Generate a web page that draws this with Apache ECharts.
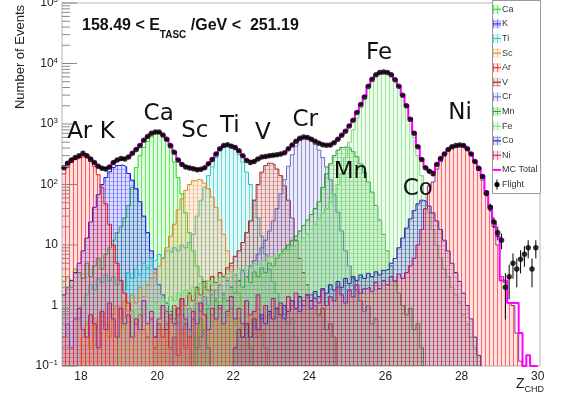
<!DOCTYPE html>
<html>
<head>
<meta charset="utf-8">
<script src="https://cdn.jsdelivr.net/npm/echarts@6/dist/echarts.min.js"></script>
<style>
  html, body { margin: 0; padding: 0; background: #fff; }
  #chart { width: 569px; height: 394px; }
</style>
</head>
<body>
<div id="chart"></div>
<script>
// Charge (Z_CHD) spectrum for 158.49 < E_TASC/GeV < 251.19.
// Every histogram uses 0.1-wide bins; each *Start is the centre of the first bin.
const Z_BIN = 0.1;
const FLOOR = 0.1;            // bottom of the log axis
const zTickValues = [18, 20, 22, 24, 26, 28, 30];

const flightStart = 17.55;
const flightCounts = [
  190, 225, 255, 280, 300, 330, 300, 265, 230, 200,
  185, 180, 195, 230, 255, 270, 265, 285, 330, 380,
  440, 540, 620, 700, 740, 735, 660, 560, 440, 340,
  255, 215, 195, 188, 182, 175, 178, 190, 220, 260,
  320, 390, 440, 455, 430, 410, 360, 300, 250, 232,
  240, 265, 285, 290, 300, 305, 310, 320, 335, 390,
  450, 520, 580, 610, 600, 560, 520, 480, 455, 445,
  450, 490, 560, 650, 760, 930, 1150, 1550, 2100, 2800,
  4200, 5500, 6500, 7100, 7250, 7100, 6500, 5400, 4200, 3000,
  2000, 1200, 700, 420, 260, 190, 165, 150, 215, 270,
  320, 380, 420, 440, 450, 440, 390, 320, 240, 185,
  135, 72, 42, 24, 16, 12, 2, 3, 5, 4,
  5.8, 7, 9, 4, 9
];

const mcTotalStart = 17.55;
const mcTotalCounts = [
  195, 230, 258, 282, 300, 320, 305, 268, 232, 205,
  188, 182, 198, 228, 252, 265, 268, 290, 335, 385,
  450, 545, 630, 705, 745, 730, 665, 565, 445, 345,
  262, 220, 198, 190, 184, 178, 182, 195, 225, 268,
  325, 392, 440, 452, 435, 405, 355, 298, 255, 238,
  245, 268, 285, 292, 298, 302, 312, 325, 345, 395,
  455, 525, 585, 612, 598, 560, 515, 478, 455, 448,
  458, 498, 570, 660, 775, 950, 1180, 1600, 2150, 2900,
  4300, 5600, 6600, 7150, 7300, 7150, 6550, 5450, 4250, 3050,
  2050, 1250, 730, 430, 265, 195, 168, 160, 220, 275,
  325, 385, 425, 445, 455, 445, 395, 325, 245, 190,
  140, 78, 44, 24, 14, 2.6, 2.6, 1.1, 1.1, 1.1,
  0.35, 0.05, 0.15, 0.05, 0.05
];

// MC templates, one per element
const caStart = 17.55;
const caCounts = [
  2.5, 3, 2, 4, 3.5, 2.8, 5, 3, 4.5, 6, 4, 7, 9, 12, 16, 20,
  28, 45, 90, 190, 300, 410, 515, 615, 690, 705, 650, 540, 400, 235,
  130, 70, 34, 16, 8, 4.5, 3, 2, 2.5, 1.5, 1.8, 1, 1.3, 0.7, 0.9, 0.5, 0.6, 0.3, 0.4, 0.2
];
const kStart = 17.55;
const kCounts = [
  1.5, 2, 2.6, 3.5, 5, 8, 13, 24, 42, 68, 100, 130, 162, 190, 206, 210, 196, 152, 118, 85,
  52, 30, 16, 8, 4, 2.2, 1.5, 1.1, 0.8, 0.6, 0.9, 0.4, 0.5, 0.3, 0.6, 0.2, 0.3, 0.4, 0.2
];
const tiStart = 17.95;
const tiCounts = [
  0.6, 1.0, 1.5, 2.2, 1.8, 2.8, 2.4, 3.2, 2.6, 3.0, 2.2, 2.6, 1.8, 3.5, 2.8, 4.0, 3.2, 5.0, 4.2, 6.0,
  5.5, 7.0, 6.2, 8.0, 7.5, 9.0, 8.0, 10, 9.0, 11,
  15, 30, 55, 90, 140, 195, 280, 370, 425, 445, 430, 385, 310, 235, 160, 100, 55, 28, 14, 7,
  4, 2.5, 1.6, 1.0, 0.7, 0.5, 0.6, 0.3
];
const scStart = 18.05;
const scCounts = [
  0.3, 0.5, 0.2, 0.6, 0.4, 0.8, 0.5, 0.3, 0.7, 1.0, 0.6, 1.2, 0.8, 1.5, 1.1, 2.0, 1.4,
  2.2, 2.8, 3.5, 4.5, 6, 9, 14, 22, 38, 58, 80, 100, 115, 122, 118, 105, 85, 62, 42, 26,
  15, 8, 4.5, 2.5, 1.6, 1.0, 0.7, 0.5, 0.8, 0.3, 0.4, 0.2
];
const arStart = 17.55;
const arCounts = [
  150, 190, 230, 260, 280, 290, 272, 240, 200, 145, 90, 48, 22, 10, 5, 2.6, 1.6, 1.1, 0.8, 0.5,
  0.7, 0.4, 0.3, 0.6, 0.2, 0.4, 0.3, 0.5, 0.2, 0.3, 0.15, 0.4, 0.2, 0.3
];
const vStart = 19.95;
const vCounts = [
  0.3, 0.5, 0.4, 0.8, 0.6, 1.0, 0.7, 1.3, 1.0, 1.6, 1.2, 2.0, 1.5, 2.5, 1.8, 3.0, 2.4, 3.5, 3.0, 4.2,
  5.0, 6.5, 8, 11, 16,
  25, 55, 100, 160, 205, 225, 215, 180, 140, 95, 55, 28, 12, 6, 3.5, 2.2, 1.5, 1, 0.7, 0.9, 0.4, 0.5, 0.3
];
const crStart = 20.45;
const crCounts = [
  0.3, 0.5, 0.7, 0.4, 0.9, 0.6, 1.1, 0.8, 1.4, 1.0, 1.8, 1.3, 2.2, 1.6, 2.6, 2.0, 3.2, 2.5, 3.8, 3.0,
  4.5, 5.5, 7, 9, 12, 17, 25, 40, 70,
  120, 200, 310, 430, 530, 590, 600, 550, 460, 370, 280, 195, 120, 68, 35, 17, 8, 4.5, 2.8, 1.8, 1.2,
  0.8, 1.0, 0.5, 0.6, 0.3
];
const mnStart = 21.05;
const mnCounts = [
  0.3, 0.6, 0.4, 0.9, 0.7, 1.2, 0.9, 1.5, 1.2, 2.0, 1.6, 2.6, 2.0, 3.0, 2.4, 3.6, 3.0, 4.2, 3.5, 5,
  4.5, 6, 7, 8.5, 10, 12, 14, 17, 21, 26, 32, 40,
  52, 90, 150, 220, 300, 370, 410, 420, 400, 350, 290, 220, 160, 110, 75, 45, 26, 15, 8, 4.5,
  2.6, 1.6, 1.0, 0.7, 0.9, 0.4, 0.5, 0.2
];
const feStart = 19.05;
const feCounts = [
  0.4, 0.6, 0.5, 0.8, 0.6, 0.9, 0.7, 1.0, 0.8, 1.1, 0.9, 1.3, 1.0, 1.4, 1.2, 1.6, 1.3, 1.8, 1.5, 2.0,
  1.7, 2.3, 1.9, 2.6, 2.2, 2.9, 2.5, 3.2, 2.8, 3.6, 3.2, 4.0, 3.6, 4.5, 4.0, 5.0, 4.6, 5.6, 5.2, 6.4,
  6.0, 7.2, 7.0, 8.2, 8.0, 9.5, 10, 11.5, 13, 15, 18, 22,
  27, 33, 40, 50, 70, 100, 150, 280, 500, 800, 1250, 1850, 2600, 3800, 5000, 6100, 6900, 7150,
  7000, 6400, 5300, 4100, 2900, 1900, 1100, 600, 300, 140, 70, 35, 18, 10, 6, 4, 3, 2, 1.5, 1.1,
  0.7, 0.5, 0.3, 0.2
];
const coStart = 22.05;
const coCounts = [
  0.2, 0.4, 0.3, 0.5, 0.3, 0.6, 0.4, 0.7, 0.5, 0.8, 0.6, 0.9, 0.7, 1.0, 0.8, 1.2, 0.9, 1.4, 1.0, 1.5,
  1.2, 1.7, 1.4, 1.9, 1.6, 2.2, 1.8, 2.5, 2.0, 2.8, 2.3, 3.0, 2.6, 3.2, 2.8, 3.4, 3.0, 3.6, 3.2, 3.8,
  4, 5, 6, 9, 13, 19, 27, 37, 48, 55, 52, 44, 34, 25, 18, 12, 8, 5, 3.5, 2.5,
  1.6, 1.0, 0.6, 0.3, 0.15
];
const niStart = 17.55;
const niCounts = [
  0.3, 0.5, 0.2, 0.6, 0.9, 0.4, 0.3, 0.7, 0.5, 0.2,
  0.8, 0.4, 1.1, 0.6, 0.3, 0.9, 0.5, 0.7, 0.3, 0.6,
  0.4, 1.2, 0.5, 0.8, 0.3, 0.6, 1.0, 0.4, 0.7, 0.5,
  0.9, 1.3, 0.6, 0.4, 0.8, 0.5, 1.1, 0.7, 0.4, 0.9,
  0.6, 1.0, 0.5, 0.8, 1.4, 0.6, 0.9, 0.5, 1.2, 0.7,
  0.8, 1.5, 0.6, 1.0, 0.7, 1.3, 0.9, 1.1, 0.6, 1.4,
  1.0, 1.6, 0.8, 1.2, 1.5, 0.9, 1.3, 1.1, 1.8, 1.0,
  1.4, 1.2, 2.0, 1.5, 1.1, 1.8, 1.4, 2.2, 1.6, 1.9,
  2.0, 1.7, 2.4, 1.9, 2.6, 2.2, 3.0, 2.5, 3.3, 2.8,
  3.5, 4.5, 6, 10, 18,
  40, 95, 110, 180, 240, 315, 370, 410, 430, 440,
  430, 385, 310, 230, 170, 118, 68, 38, 20, 10,
  3, 2.4, 1.1, 1.0, 0.35, 0.12
];

const elementNames  = ['Ca', 'K', 'Ti', 'Sc', 'Ar', 'V', 'Cr', 'Mn', 'Fe', 'Co', 'Ni'];
const elementStarts = [caStart, kStart, tiStart, scStart, arStart, vStart, crStart, mnStart, feStart, coStart, niStart];
const elementCounts = [caCounts, kCounts, tiCounts, scCounts, arCounts, vCounts, crCounts, mnCounts, feCounts, coCounts, niCounts];
const elementLine   = ['#1fd81f', '#1414ee', '#22c4c4', '#dd8a2c', '#ee1515', '#a32828', '#6868c4', '#2a9e2a', '#6cdc6c', '#2a2ab0', '#a0209c'];
const elementHatch  = ['#2ee62e', '#2424ff', '#33cccc', '#e59a44', '#ff2222', '#b03232', '#7070cc', '#33aa33', '#7ae07a', '#3030c0', '#ff3030'];
const elementCross  = [false, true, false, true, false, true, false, true, false, true, false];

const peakLabels  = ['Ar K', 'Ca', 'Sc', 'Ti', 'V', 'Cr', 'Mn', 'Fe', 'Co', 'Ni'];
const peakLabelAt = [[18.26, 738], [20.04, 1436], [20.99, 766], [21.91, 927], [22.78, 710],
                     [23.89, 1164], [25.09, 161], [25.83, 14920], [26.85, 84], [27.96, 1520]];

const Z_MIN = 17.5, Z_MAX = 30.06;

// ---------------------------------------------------------------------------
function rgba(hex, a) {
  const n = parseInt(hex.slice(1), 16);
  return `rgba(${(n >> 16) & 255},${(n >> 8) & 255},${n & 255},${a})`;
}
// fill pattern: faint tint with vertical hatching, plus horizontal lines for the grid styles
function hatch(hex, cross) {
  const c = document.createElement('canvas');
  c.width = 4; c.height = 4;
  const g = c.getContext('2d');
  g.fillStyle = rgba(hex, 0.14);
  g.fillRect(0, 0, 4, 4);
  g.fillStyle = rgba(hex, cross ? 0.5 : 0.7);
  g.fillRect(1, 0, 1, 4);
  if (cross) { g.fillStyle = rgba(hex, 0.32); g.fillRect(0, 1, 1, 1); g.fillRect(2, 1, 2, 1); }
  return { image: c, repeat: 'repeat' };
}
// outline of a histogram as step points (lower bin edges)
function stepPoints(start, counts, closeLeft) {
  const lo = start - Z_BIN / 2;
  const pts = closeLeft ? [[lo, FLOOR]] : [];
  counts.forEach((v, i) => pts.push([+(lo + i * Z_BIN).toFixed(3), Math.max(v, FLOOR)]));
  const hi = +(lo + counts.length * Z_BIN).toFixed(3);
  pts.push([hi, Math.max(counts[counts.length - 1], FLOOR)]);
  pts.push([hi, FLOOR]);
  return pts;
}
function binCentres(start, counts) {
  return counts.map((v, i) => [+(start + i * Z_BIN).toFixed(3), v]);
}

const series = [];
elementNames.forEach((name, i) => {
  series.push({
    type: 'line', name, step: 'end', showSymbol: false, symbol: 'none',
    data: stepPoints(elementStarts[i], elementCounts[i], elementStarts[i] - Z_BIN / 2 > Z_MIN),
    lineStyle: { color: elementLine[i], width: 1 },
    areaStyle: { color: hatch(elementHatch[i], elementCross[i]), origin: FLOOR, opacity: 1 },
    z: 2 + i, silent: true, animation: false
  });
});

series.push({
  type: 'line', name: 'MC Total', step: 'end', showSymbol: false, symbol: 'none',
  data: stepPoints(mcTotalStart, mcTotalCounts, false),
  lineStyle: { color: '#ff00ff', width: 2 },
  z: 20, silent: true, animation: false
});

const flightPts = binCentres(flightStart, flightCounts).filter(p => p[1] > 0);
series.push({
  type: 'custom', name: 'Flight errors', z: 21, silent: true, animation: false,
  data: flightPts.map(p => [p[0], Math.max(p[1] - Math.sqrt(p[1]), FLOOR), p[1] + Math.sqrt(p[1])]),
  renderItem(params, api) {
    const a = api.coord([api.value(0), api.value(1)]);
    const b = api.coord([api.value(0), api.value(2)]);
    return { type: 'line', shape: { x1: a[0], y1: a[1], x2: b[0], y2: b[1] },
             style: { stroke: '#000', lineWidth: 1 } };
  }
});
series.push({
  type: 'scatter', name: 'Flight', data: flightPts, symbol: 'circle', symbolSize: 5.5,
  itemStyle: { color: '#000' }, z: 22, silent: true, animation: false
});

// log-axis tick marks drawn inside the frame
const yMajor = [], yMinor = [];
for (let d = -1; d <= 4; d++) {
  yMajor.push(Math.pow(10, d));
  for (let m = 2; m <= 9; m++) yMinor.push(m * Math.pow(10, d));
}
yMajor.push(1e5);
function tickSeries(values, len) {
  return {
    type: 'custom', silent: true, animation: false, z: 25,
    data: values.map(v => [Z_MIN, v]),
    renderItem(params, api) {
      const p = api.coord([api.value(0), api.value(1)]);
      return { type: 'line', shape: { x1: p[0], y1: p[1], x2: p[0] + len, y2: p[1] },
               style: { stroke: '#8a8a8a', lineWidth: 1 } };
    }
  };
}
series.push(tickSeries(yMajor, 15));
series.push(tickSeries(yMinor, 8));

series.push({
  type: 'custom', silent: true, animation: false, z: 30,
  data: peakLabelAt,
  renderItem(params, api) {
    const p = api.coord([api.value(0), api.value(1)]);
    return { type: 'text', x: p[0], y: p[1],
             style: { text: peakLabels[params.dataIndex], font: '23px "DejaVu Sans"',
                      fill: '#111', align: 'center', verticalAlign: 'middle' } };
  }
});

// ---------------------------------------------------------------------------
const measure = document.createElement('canvas').getContext('2d');
function textWidth(str, font) { measure.font = font; return measure.measureText(str).width; }

const graphics = [];
// energy-range title
const tMain = 'bold 16px "Liberation Sans"', tSub = 'bold 10px "Liberation Sans"';
const t1 = '158.49 < E', t2 = 'TASC', t3 = ' /GeV <  251.19';
let tx = 82;
graphics.push({ type: 'text', x: tx, y: 18, z: 50, style: { text: t1, font: tMain, fill: '#111', align: 'left', verticalAlign: 'top' } });
tx += textWidth(t1, tMain);
graphics.push({ type: 'text', x: tx, y: 30, z: 50, style: { text: t2, font: tSub, fill: '#111', align: 'left', verticalAlign: 'top' } });
tx += textWidth(t2, tSub);
graphics.push({ type: 'text', x: tx, y: 18, z: 50, style: { text: t3, font: tMain, fill: '#111', align: 'left', verticalAlign: 'top' } });

// axis titles
graphics.push({ type: 'text', x: 20, y: 57, rotation: Math.PI / 2, z: 50,
  style: { text: 'Number of Events', font: '13px "Liberation Sans"', fill: '#222', align: 'center', verticalAlign: 'middle' } });
const zFont = '14px "Liberation Sans"', zSubFont = '9px "Liberation Sans"';
graphics.push({ type: 'text', x: 516, y: 377, z: 50, style: { text: 'Z', font: zFont, fill: '#222', align: 'left', verticalAlign: 'top' } });
graphics.push({ type: 'text', x: 516 + textWidth('Z', zFont), y: 385, z: 50, style: { text: 'CHD', font: zSubFont, fill: '#222', align: 'left', verticalAlign: 'top' } });

// legend box
const legTop = 9.3, legStep = 14.6, legX = 492;
graphics.push({ type: 'rect', z: 60, shape: { x: 492.5, y: 0.5, width: 48, height: 193 },
  style: { fill: '#fff', stroke: '#9a9a9a', lineWidth: 1 } });
elementNames.forEach((name, i) => {
  const yc = legTop + legStep * i;
  graphics.push({ type: 'rect', z: 61, shape: { x: legX + 1, y: yc - 4.5, width: 8, height: 9 },
    style: { fill: hatch(elementHatch[i], elementCross[i]) } });
  graphics.push({ type: 'line', z: 62, shape: { x1: legX + 1, y1: yc, x2: legX + 9, y2: yc },
    style: { stroke: elementLine[i], lineWidth: 1 } });
  graphics.push({ type: 'text', z: 62, x: legX + 10, y: yc,
    style: { text: name, font: '9px "Liberation Sans"', fill: '#333', align: 'left', verticalAlign: 'middle' } });
});
{
  const yc = legTop + legStep * elementNames.length;
  graphics.push({ type: 'line', z: 62, shape: { x1: legX + 1, y1: yc, x2: legX + 9, y2: yc },
    style: { stroke: '#ff00ff', lineWidth: 2 } });
  graphics.push({ type: 'text', z: 62, x: legX + 10, y: yc,
    style: { text: 'MC Total', font: '9px "Liberation Sans"', fill: '#333', align: 'left', verticalAlign: 'middle' } });
  const yf = yc + legStep;
  graphics.push({ type: 'line', z: 62, shape: { x1: legX + 5, y1: yf - 5, x2: legX + 5, y2: yf + 5 },
    style: { stroke: '#000', lineWidth: 1 } });
  graphics.push({ type: 'circle', z: 62, shape: { cx: legX + 5, cy: yf, r: 2.6 }, style: { fill: '#000' } });
  graphics.push({ type: 'text', z: 62, x: legX + 10, y: yf,
    style: { text: 'Flight', font: '9px "Liberation Sans"', fill: '#333', align: 'left', verticalAlign: 'middle' } });
}

const chart = echarts.init(document.getElementById('chart'), null, { renderer: 'canvas' });
chart.setOption({
  backgroundColor: '#fff',
  animation: false,
  grid: { left: 62, right: 29, top: 3, bottom: 28, show: true, borderColor: '#b4b4b4', borderWidth: 1,
          backgroundColor: 'transparent', containLabel: false, outerBoundsMode: 'none' },
  xAxis: {
    type: 'value', min: Z_MIN, max: Z_MAX,
    axisLine: { show: false }, axisTick: { show: false }, splitLine: { show: false },
    axisLabel: { customValues: zTickValues, margin: 5, color: '#222', fontSize: 12, fontFamily: 'Liberation Sans' }
  },
  yAxis: {
    type: 'log', logBase: 10, min: FLOOR, max: 1e5, splitNumber: 6,
    axisLine: { show: false }, axisTick: { show: false }, splitLine: { show: false },
    axisLabel: {
      margin: 4,
      formatter(v) {
        const e = Math.round(Math.log10(v));
        if (e === 0) return '{b|1}';
        if (e === 1) return '{b|10}';
        return '{b|10}{s|' + (e < 0 ? '\u2212' : '') + Math.abs(e) + '}';
      },
      rich: {
        b: { fontSize: 12, fontFamily: 'Liberation Sans', color: '#222', lineHeight: 14 },
        s: { fontSize: 8, fontFamily: 'Liberation Sans', color: '#222', lineHeight: 8, verticalAlign: 'top' }
      }
    }
  },
  graphic: graphics,
  series
});
</script>
</body>
</html>
